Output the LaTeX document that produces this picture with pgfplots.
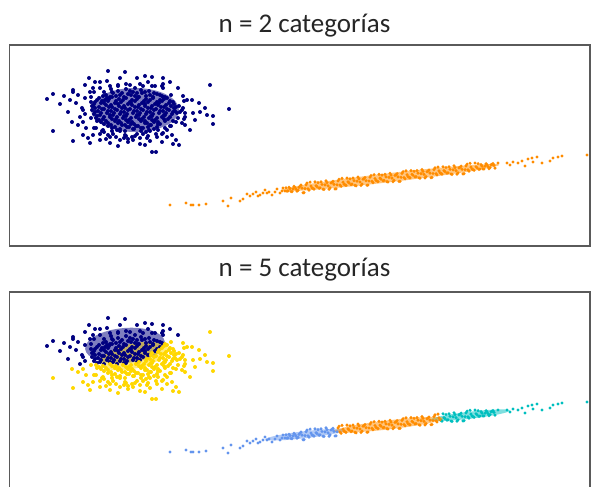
\documentclass[border=0pt]{standalone}
\usepackage{fontspec}
\setmainfont{Carlito}
\usepackage{pgfplots}
\usepackage{pgfplotstable}
\pgfplotsset{compat=1.18}
\definecolor{navyc}{RGB}{0,0,128}
\definecolor{goldc}{RGB}{255,215,0}
\definecolor{orangec}{RGB}{255,140,0}
\definecolor{cornc}{RGB}{100,149,237}
\definecolor{cyanc}{RGB}{0,191,191}
\definecolor{framec}{RGB}{90,90,90}

% blob, upper component (navy in n=5)
\pgfplotstableread[row sep=\\]{x y\\
47 99\\ 53 94\\ 64 96\\ 73 90\\ 73 92\\ 80 117\\ 76 103\\ 89 78\\ 108 71\\ 125 72\\ 137 78\\ 152 77\\ 163 78\\ 100 82\\ 95 82\\ 85 85\\ 107 81\\ 130 85\\ 148 82\\ 163 84\\ 163 88\\ 178 88\\ 82 108\\ 85 98\\ 90 92\\ 93 88\\
100 88\\ 110 86\\ 118 85\\ 140 84\\ 155 86\\ 104 92\\
83 110\\ 91 102\\ 94 92\\ 111 89\\ 126 84\\ 143 86\\ 162 86\\ 92 106\\ 91 97\\ 107 98\\ 118 86\\ 135 88\\ 152 86\\
70 100\\ 78 95\\ 120 78\\ 145 76\\ 170 82\\ 85 114\\ 163 97\\ 60 104\\ 68 112\\
118 91\\ 126 89\\ 133 92\\ 141 90\\ 149 91\\ 106 95\\ 113 93\\ 120 95\\ 128 94\\ 135 96\\ 142 93\\ 99 98\\ 105 100\\ 112 97\\ 119 99\\ 126 98\\ 139 97\\ 95 102\\ 101 103\\ 108 101\\ 115 103\\ 121 102\\ 93 106\\ 99 107\\ 106 105\\ 92 110\\
112 92\\ 122 93\\ 130 91\\ 137 93\\ 145 92\\ 154 93\\ 103 96\\ 110 97\\ 116 96\\ 124 97\\ 131 95\\ 138 97\\ 97 100\\ 102 101\\ 109 99\\ 116 101\\ 123 100\\ 94 104\\ 104 103\\ 111 105\\ 95 108\\
150 95\\ 157 94\\ 162 96\\ 132 100\\ 146 99\\ 153 98\\ 160 100\\ 128 104\\ 135 101\\ 142 103\\ 148 102\\ 155 104\\
112 107\\ 119 106\\ 125 108\\ 132 105\\ 138 107\\ 145 106\\ 98 111\\ 104 109\\ 111 111\\ 117 110\\ 124 112\\ 130 109\\ 137 111\\ 143 110\\
94 114\\ 100 115\\ 107 113\\ 113 115\\ 120 114\\ 126 116\\ 133 113\\
146 96\\ 153 97\\ 160 95\\ 130 102\\ 137 99\\ 144 101\\ 150 100\\ 157 102\\ 118 104\\ 124 106\\ 131 103\\ 139 105\\ 145 104\\
102 109\\ 109 107\\ 115 109\\ 122 108\\ 128 110\\ 135 107\\ 141 109\\ 148 108\\ 95 112\\ 101 113\\ 108 111\\ 114 113\\ 121 112\\ 127 114\\ 134 111\\ 140 113\\
97 116\\ 104 117\\ 110 115\\ 117 117\\ 124 116\\ 137 115\\
}\blobN

% blob, lower component (gold in n=5)
\pgfplotstableread[row sep=\\]{x y\\
53 131\\ 73 141\\ 72 122\\ 210 85\\ 229 109\\ 213 124\\ 213 116\\ 207 115\\ 200 112\\ 192 100\\ 187 100\\ 199 103\\ 183 108\\ 193 113\\ 185 117\\ 182 123\\ 185 125\\ 179 145\\ 173 144\\ 152 152\\ 156 152\\ 140 144\\ 128 142\\ 110 143\\ 90 143\\ 83 135\\ 93 135\\ 102 131\\ 110 137\\ 120 140\\ 133 140\\ 147 138\\ 157 137\\ 167 137\\ 172 135\\ 83 122\\
96 128\\ 104 132\\ 113 134\\ 125 135\\ 137 134\\ 146 132\\ 158 130\\ 165 128\\ 170 126\\ 176 122\\ 178 118\\ 180 112\\ 177 113\\
182 110\\ 184 119\\ 171 126\\ 162 134\\ 143 134\\ 126 136\\ 112 131\\ 94 128\\ 91 118\\ 171 95\\ 184 101\\
185 113\\ 173 121\\ 167 130\\ 150 131\\ 135 136\\ 120 131\\ 103 130\\ 97 121\\ 183 96\\ 179 106\\
78 125\\ 86 128\\ 195 120\\ 205 108\\ 190 130\\ 176 140\\ 162 142\\ 145 145\\ 118 146\\ 100 140\\ 88 138\\
100 134\\ 108 135\\ 116 137\\ 124 138\\ 132 137\\ 140 138\\ 148 136\\ 156 134\\ 163 133\\ 106 139\\ 128 139\\ 150 141\\
167 98\\ 162 101\\ 169 103\\ 173 102\\ 151 108\\ 158 105\\ 164 107\\ 171 106\\ 176 107\\
150 112\\ 156 109\\ 163 111\\ 169 110\\ 175 111\\ 139 115\\ 146 114\\ 152 116\\ 159 113\\ 165 115\\ 172 114\\
96 118\\ 103 119\\ 110 117\\ 116 119\\ 123 118\\ 129 120\\ 136 117\\ 142 119\\ 149 118\\ 155 120\\ 162 117\\ 168 119\\
101 122\\ 108 123\\ 115 121\\ 121 123\\ 128 122\\ 134 124\\ 141 121\\ 147 123\\ 154 122\\ 160 124\\ 165 121\\
108 126\\ 115 127\\ 122 125\\ 129 127\\ 136 126\\ 143 128\\ 150 125\\ 157 127\\
117 130\\ 125 131\\ 133 129\\ 141 131\\ 149 130\\
165 97\\ 164 99\\ 170 101\\ 152 106\\ 159 103\\ 166 105\\ 174 104\\ 154 110\\ 161 107\\ 167 109\\ 174 108\\
147 112\\ 153 114\\ 160 111\\ 166 113\\ 173 112\\ 131 118\\ 144 117\\ 151 116\\ 157 118\\ 164 115\\ 170 117\\
99 120\\ 106 121\\ 112 119\\ 119 121\\ 126 120\\ 132 122\\ 139 119\\ 145 121\\ 152 120\\ 158 122\\ 164 119\\
104 124\\ 111 125\\ 118 123\\ 125 125\\ 131 124\\ 138 126\\ 145 123\\ 151 125\\ 158 124\\
112 128\\ 120 129\\ 127 127\\ 134 129\\ 141 128\\ 148 127\\ 154 129\\
}\blobG

% line, left part (cornflower in n=5)
\pgfplotstableread[row sep=\\]{x y\\
170 205\\ 186 203\\ 191 205\\ 193 205\\ 199 205\\ 206 204\\ 223 201\\ 231 198\\ 228 206\\ 240 201\\ 243 199\\ 247 194\\ 253 194\\ 260 195\\ 263 193\\ 267 193\\ 272 195\\ 275 192\\ 280 193\\ 285 191\\
250 196\\ 256 192\\ 258 196\\ 265 190\\ 269 192\\ 277 189\\ 282 191\\ 283 188\\
286 187.8\\ 288 190.9\\ 290 188.7\\ 292 191.7\\ 294 186.4\\ 296 189.2\\ 298 190.4\\ 300 186.2\\ 302 188.2\\ 304 192.6\\ 306 184.8\\ 308 188.8\\ 310 182.2\\ 312 187.9\\ 314 189.2\\ 316 185.7\\ 318 182.6\\ 320 187.9\\ 322 184.5\\ 324 189.5\\ 326 180.9\\ 328 185.8\\ 330 187.9\\ 332 182.4\\ 334 184.4\\ 336 188.8\\
287 191.2\\ 289 187.3\\ 291 191.5\\ 293 188.9\\ 295 187.5\\ 297 191.2\\ 299 187.4\\ 301 185.1\\ 303 192.8\\ 305 188.6\\ 307 183.1\\ 309 190.1\\ 311 186.0\\ 313 188.5\\ 315 181.9\\ 317 186.7\\ 319 188.3\\ 321 181.9\\ 323 189.2\\ 325 184.9\\ 327 182.7\\ 329 189.3\\ 331 183.0\\ 333 181.3\\ 335 189.0\\ 337 184.8\\
}\lineA

% line, middle part (orange in n=5)
\pgfplotstableread[row sep=\\]{x y\\
338 181.0\\ 340 185.0\\ 342 178.4\\ 344 184.2\\ 346 185.4\\ 348 181.9\\ 350 178.9\\ 352 184.1\\ 354 180.7\\ 356 185.8\\ 358 177.1\\ 360 182.0\\ 362 184.1\\ 364 178.6\\ 366 180.7\\ 368 185.0\\ 370 177.2\\ 372 181.3\\ 374 174.7\\ 376 180.4\\ 378 181.7\\ 380 178.1\\ 382 175.1\\ 384 180.4\\ 386 176.9\\ 388 182.0\\ 390 173.3\\ 392 178.2\\ 394 180.4\\ 396 174.8\\ 398 176.9\\ 400 181.3\\ 402 173.4\\ 404 177.5\\ 406 170.9\\ 408 176.6\\ 410 177.9\\ 412 174.3\\ 414 171.3\\ 416 176.6\\ 418 173.1\\ 420 178.2\\ 422 169.6\\ 424 174.4\\ 426 176.6\\ 428 171.1\\ 430 173.1\\ 432 177.5\\ 434 169.6\\ 436 173.7\\ 438 167.1\\ 440 172.8\\
339 179.3\\ 341 186.3\\ 343 182.2\\ 345 184.8\\ 347 178.1\\ 349 182.9\\ 351 184.6\\ 353 178.1\\ 355 185.4\\ 357 181.2\\ 359 178.9\\ 361 185.5\\ 363 179.2\\ 365 177.5\\ 367 185.3\\ 369 181.0\\ 371 175.5\\ 373 182.6\\ 375 178.5\\ 377 181.0\\ 379 174.4\\ 381 179.1\\ 383 180.8\\ 385 174.4\\ 387 181.6\\ 389 177.4\\ 391 175.1\\ 393 181.7\\ 395 175.5\\ 397 173.7\\ 399 181.5\\ 401 177.3\\ 403 171.7\\ 405 178.8\\ 407 174.7\\ 409 177.2\\ 411 170.6\\ 413 175.3\\ 415 177.0\\ 417 170.6\\ 419 177.8\\ 421 173.6\\ 423 171.4\\ 425 177.9\\ 427 171.7\\ 429 170.0\\ 431 177.7\\ 433 173.5\\ 435 167.9\\ 437 175.0\\ 439 170.9\\
}\lineB

% line, right part (turquoise in n=5)
\pgfplotstableread[row sep=\\]{x y\\
442 174.1\\ 444 170.6\\ 446 167.5\\ 448 172.8\\ 450 169.3\\ 452 174.4\\ 454 165.8\\ 456 170.6\\ 458 172.8\\ 460 167.3\\ 462 169.3\\ 464 173.7\\ 466 165.9\\ 468 169.9\\ 470 163.3\\ 472 169.0\\ 474 170.3\\ 476 166.8\\ 478 163.7\\ 480 169.0\\ 482 166.1\\ 484 169.0\\ 486 163.7\\ 488 166.6\\ 490 167.7\\ 492 164.3\\ 494 165.4\\
441 173.4\\ 443 166.8\\ 445 171.6\\ 447 173.2\\ 449 166.8\\ 451 174.0\\ 453 169.8\\ 455 167.6\\ 457 174.1\\ 459 167.9\\ 461 166.2\\ 463 173.9\\ 465 169.7\\ 467 164.2\\ 469 171.2\\ 471 167.1\\ 473 169.6\\ 475 163.0\\ 477 167.8\\ 479 169.4\\ 481 164.6\\ 483 168.9\\ 485 166.2\\ 487 164.8\\ 489 168.6\\ 491 164.7\\ 493 163.6\\ 495 168.1\\
498 163\\ 507 163\\ 510 165\\ 513 162\\ 518 163\\ 522 161\\ 525 166\\ 528 159\\ 532 158\\ 533 162\\ 537 157\\ 542 163\\ 550 161\\ 553 158\\ 558 157\\ 562 156\\ 587 155\\
}\lineC

\pgfplotsset{
  gmm/.style={width=580.5pt, height=201pt, scale only axis,
    xmin=9.5, xmax=590, ymin=45, ymax=246, y dir=reverse,
    xtick=\empty, ytick=\empty,
    axis line style={framec, line width=1.3pt},
    anchor=south west, clip=true},
}

\begin{document}
\begin{tikzpicture}[x=1pt,y=1pt]
% ---------- n = 2 ----------
\begin{axis}[gmm, at={(9.5pt,241pt)}]
\addplot[only marks, mark=*, mark size=2pt, color=navyc, fill=navyc, draw opacity=0] table {\blobN};
\addplot[only marks, mark=*, mark size=2pt, color=navyc, fill=navyc, draw opacity=0] table {\blobG};
\fill[navyc, opacity=0.5] (axis cs:135,110) ellipse [x radius=44pt, y radius=22pt];
\addplot[only marks, mark=*, mark size=1.7pt, color=orangec, fill=orangec, draw opacity=0] table {\lineA};
\addplot[only marks, mark=*, mark size=1.7pt, color=orangec, fill=orangec, draw opacity=0] table {\lineB};
\addplot[only marks, mark=*, mark size=1.7pt, color=orangec, fill=orangec, draw opacity=0] table {\lineC};
\fill[orangec, opacity=0.5, rotate around={6.7:(axis cs:390,177.6)}] (axis cs:390,177.6) ellipse [x radius=110pt, y radius=4.5pt];
\end{axis}
% ---------- n = 5 ----------
\begin{axis}[gmm, at={(9.5pt,-6pt)}]
\addplot[only marks, mark=*, mark size=2pt, color=navyc, fill=navyc, draw opacity=0] table {\blobN};
\fill[navyc, opacity=0.5, rotate around={5:(axis cs:125,98.5)}] (axis cs:125,98.5) ellipse [x radius=40pt, y radius=17.5pt];
\addplot[only marks, mark=*, mark size=1.7pt, color=cyanc, fill=cyanc, draw opacity=0] table {\lineC};
\fill[cyanc, opacity=0.5, rotate around={6.7:(axis cs:470,168.2)}] (axis cs:470,168.2) ellipse [x radius=40pt, y radius=3.5pt];
\addplot[only marks, mark=*, mark size=1.7pt, color=cornc, fill=cornc, draw opacity=0] table {\lineA};
\fill[cornc, opacity=0.5, rotate around={6.7:(axis cs:305,187.7)}] (axis cs:305,187.7) ellipse [x radius=40pt, y radius=3.5pt];
\addplot[only marks, mark=*, mark size=2pt, color=goldc, fill=goldc, draw opacity=0] table {\blobG};
\fill[goldc, opacity=0.5, rotate around={12:(axis cs:134,109)}] (axis cs:134,109) ellipse [x radius=35pt, y radius=12.5pt];
\addplot[only marks, mark=*, mark size=1.7pt, color=orangec, fill=orangec, draw opacity=0] table {\lineB};
\fill[orangec, opacity=0.5, rotate around={6.7:(axis cs:389,177.8)}] (axis cs:389,177.8) ellipse [x radius=55pt, y radius=4.5pt];
\end{axis}
% titles
\node[anchor=base, font=\fontsize{27}{30}\selectfont, text=black!85] at (304.5pt,454.7pt) {n = 2 categorías};
\node[anchor=base, font=\fontsize{27}{30}\selectfont, text=black!85] at (304.5pt,210.5pt) {n = 5 categorías};
\pgfresetboundingbox
\useasboundingbox (0,0) rectangle (592pt,487pt);
\end{tikzpicture}
\end{document}
